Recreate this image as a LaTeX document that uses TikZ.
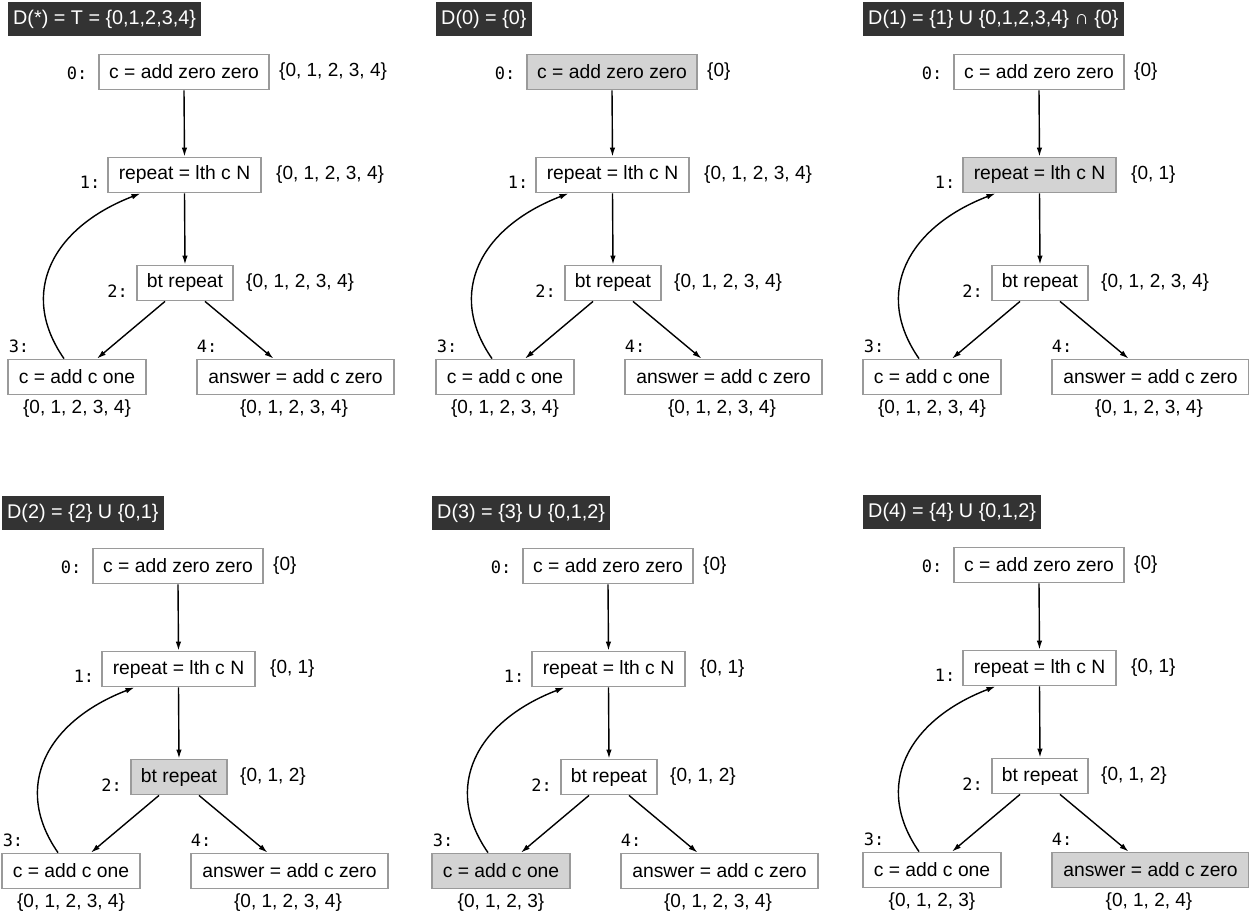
\documentclass[tikz,border=0pt]{standalone}
\usepackage{fontspec}
\setmainfont{Liberation Sans}
\newfontfamily\monofont{DejaVu Sans Mono}
\usetikzlibrary{arrows.meta}
\definecolor{titlebg}{HTML}{333333}
\definecolor{boxline}{HTML}{9A9A9A}
\definecolor{hl}{HTML}{D3D3D3}
\tikzset{
  stmt/.style={draw=boxline, line width=1.8pt, fill=white, minimum height=35pt,
    inner xsep=0pt, inner ysep=0pt, font=\fontsize{19.3}{22}\selectfont},
  ttl/.style={fill=titlebg, text=white, anchor=north west, minimum height=34pt,
    inner xsep=5pt, inner ysep=0pt, font=\fontsize{19.8}{22}\selectfont},
  lbl/.style={font=\monofont\fontsize{17}{18}\selectfont, inner sep=0pt},
  setl/.style={font=\fontsize{19}{22}\selectfont, inner sep=0pt},
  arr/.style={-{Latex[length=9pt,width=5.5pt]}, line width=1.4pt},
  n0/.style={}, n1/.style={}, n2/.style={}, n3/.style={}, n4/.style={}, nx/.style={}
}
\newcommand\drawpanel[9]{%
\begin{scope}[shift={#1}, name prefix=#2-, n#4/.style={fill=hl}]
  \node[ttl] (title) at (8,2) {#3};
  \node[stmt,n0,minimum width=170pt] (n0) at (184,72) {c = add zero zero};
  \node[stmt,n1,minimum width=153pt] (n1) at (184.5,175) {repeat = lth c N};
  \node[stmt,n2,minimum width=96pt] (n2) at (185,283) {bt repeat};
  \node[stmt,n3,minimum width=138pt] (n3) at (77,377) {c = add c one};
  \node[stmt,n4,minimum width=197pt] (n4) at (295.5,377) {answer = add c zero};
  \node[lbl] (l0) at (77,73) {0:};
  \node[lbl] (l1) at (90,182) {1:};
  \node[lbl] (l2) at (117.5,291) {2:};
  \node[lbl] (l3) at (19,346) {3:};
  \node[lbl] (l4) at (207,346) {4:};
  \node[setl, anchor=west] (s0) at (279,72) {#5};
  \node[setl, anchor=west] (s1) at (276,175) {#6};
  \node[setl, anchor=west] (s2) at (246,283) {#7};
  \node[setl] (s3) at (77,409) {#8};
  \node[setl] (s4) at (294,409) {#9};
  \draw[arr] (n0.south) -- (n1.north);
  \draw[arr] (n1.south) -- (n2.north);
  \draw[arr] ([xshift=-20pt]n2.south) -- ([xshift=20pt]n3.north);
  \draw[arr] ([xshift=20pt]n2.south) -- ([xshift=-22pt]n4.north);
  \draw[arr] ([xshift=-13pt]n3.north) .. controls +(-46,-66) and +(-88,34) .. ([xshift=-44pt]n1.south);
\end{scope}}
\begin{document}
\begin{tikzpicture}[x=1pt,y=-1pt]
\useasboundingbox (0,0) rectangle (1249,916);
\drawpanel{(0,0)}{pa}{D(*) = T = \{0,1,2,3,4\}}{x}
  {\{0, 1, 2, 3, 4\}}{\{0, 1, 2, 3, 4\}}{\{0, 1, 2, 3, 4\}}{\{0, 1, 2, 3, 4\}}{\{0, 1, 2, 3, 4\}}
\drawpanel{(428,0)}{pb}{D(0) = \{0\}}{0}
  {\{0\}}{\{0, 1, 2, 3, 4\}}{\{0, 1, 2, 3, 4\}}{\{0, 1, 2, 3, 4\}}{\{0, 1, 2, 3, 4\}}
\drawpanel{(855,0)}{pc}{D(1) = \{1\} U \{0,1,2,3,4\} ∩ \{0\}}{1}
  {\{0\}}{\{0, 1\}}{\{0, 1, 2, 3, 4\}}{\{0, 1, 2, 3, 4\}}{\{0, 1, 2, 3, 4\}}
\drawpanel{(-6,494)}{pd}{D(2) = \{2\} U \{0,1\}}{2}
  {\{0\}}{\{0, 1\}}{\{0, 1, 2\}}{\{0, 1, 2, 3, 4\}}{\{0, 1, 2, 3, 4\}}
\drawpanel{(424,494)}{pe}{D(3) = \{3\} U \{0,1,2\}}{3}
  {\{0\}}{\{0, 1\}}{\{0, 1, 2\}}{\{0, 1, 2, 3\}}{\{0, 1, 2, 3, 4\}}
\drawpanel{(855,493)}{pf}{D(4) = \{4\} U \{0,1,2\}}{4}
  {\{0\}}{\{0, 1\}}{\{0, 1, 2\}}{\{0, 1, 2, 3\}}{\{0, 1, 2, 4\}}
\end{tikzpicture}
\end{document}
